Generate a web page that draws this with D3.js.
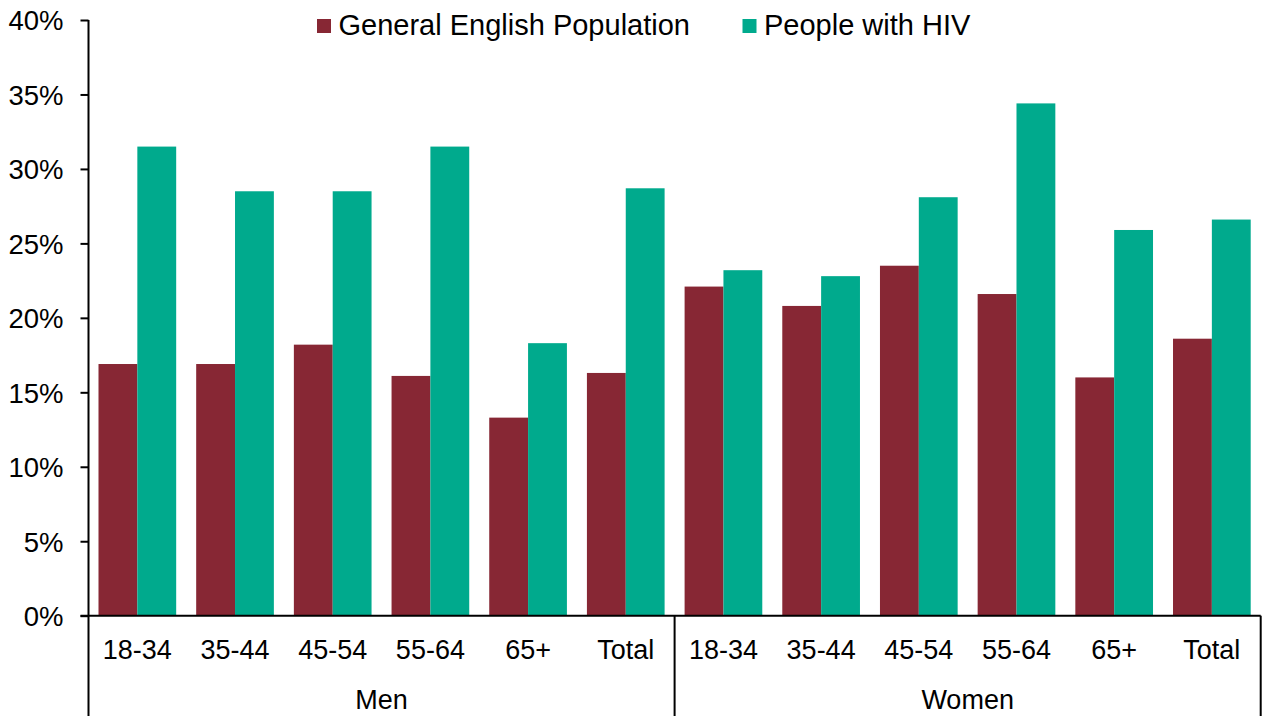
<!DOCTYPE html>
<html>
<head>
<meta charset="utf-8">
<script src="https://cdn.jsdelivr.net/npm/d3@7"></script>
<style>
  html, body { margin: 0; padding: 0; background: #fff; }
  svg { display: block; font-family: "Liberation Sans", Arial, sans-serif; }
</style>
</head>
<body>
<svg id="chart" width="1264" height="716"></svg>
<script>
// Age bands within each sex group
const groups = ["Men", "Women"];
const ageBands = ["18-34", "35-44", "45-54", "55-64", "65+", "Total"];
const seriesNames = ["General English Population", "People with HIV"];
const seriesColors = ["#872734", "#00AA8D"];

// Percentages per age band (Men then Women)
const generalPopulation = [16.9, 16.9, 18.2, 16.1, 13.3, 16.3,
                           22.1, 20.8, 23.5, 21.6, 16.0, 18.6];
const peopleWithHIV     = [31.5, 28.5, 28.5, 31.5, 18.3, 28.7,
                           23.2, 22.8, 28.1, 34.4, 25.9, 26.6];

const yTicks = [0, 5, 10, 15, 20, 25, 30, 35, 40];

// Build the row table
const rows = [];
groups.forEach((g, gi) => {
  ageBands.forEach((a, ai) => {
    const i = gi * ageBands.length + ai;
    rows.push({ key: g + "|" + a, group: g, age: a,
                values: [generalPopulation[i], peopleWithHIV[i]] });
  });
});

const svg = d3.select("#chart");
const plotLeft = 88.5, plotRight = 1260.7, plotTop = 20, plotBottom = 615.7, svgH = 716;

const x0 = d3.scaleBand().domain(rows.map(d => d.key)).range([plotLeft, plotRight]).padding(0);
const x1 = d3.scaleBand().domain(d3.range(seriesNames.length))
  .range([10, x0.bandwidth() - 10]).padding(0);
const y = d3.scaleLinear().domain([0, 40]).range([plotBottom, plotTop]);

// Bars
const bandG = svg.append("g").selectAll("g").data(rows).join("g")
  .attr("transform", d => `translate(${x0(d.key)},0)`);
bandG.selectAll("rect").data(d => d.values.map((v, i) => ({ v, i }))).join("rect")
  .attr("x", d => x1(d.i))
  .attr("width", x1.bandwidth())
  .attr("y", d => y(d.v))
  .attr("height", d => y(0) - y(d.v))
  .attr("fill", d => seriesColors[d.i]);

// Y axis
const yAxis = d3.axisLeft(y).tickValues(yTicks).tickFormat(d => d + "%")
  .tickSize(8).tickPadding(17);
const yg = svg.append("g").attr("transform", `translate(${plotLeft},0)`).call(yAxis);
yg.select(".domain").remove();
yg.selectAll(".tick line").attr("stroke", "#000").attr("stroke-width", 2);
yg.selectAll(".tick text").attr("font-size", 27.5).attr("fill", "#000")
  .attr("font-family", "Liberation Sans, Arial, sans-serif").attr("dy", "0.36em");

// Axis lines
const lines = svg.append("g").attr("stroke", "#000").attr("stroke-width", 2);
lines.append("line").attr("x1", plotLeft).attr("x2", plotLeft).attr("y1", plotTop).attr("y2", svgH);
lines.append("line").attr("x1", plotLeft - 8).attr("x2", plotRight).attr("y1", plotBottom).attr("y2", plotBottom);
// Group separators
const groupEdges = [x0(rows[ageBands.length].key), plotRight];
groupEdges.forEach(xe => {
  lines.append("line").attr("x1", xe).attr("x2", xe).attr("y1", plotBottom).attr("y2", svgH);
});

// Category labels
svg.append("g").selectAll("text").data(rows).join("text")
  .attr("x", d => x0(d.key) + x0.bandwidth() / 2)
  .attr("y", 659)
  .attr("text-anchor", "middle")
  .attr("font-size", 27)
  .attr("fill", "#000")
  .text(d => d.age);

// Group labels
svg.append("g").selectAll("text").data(groups).join("text")
  .attr("x", g => {
    const a = x0(g + "|" + ageBands[0]);
    const b = x0(g + "|" + ageBands[ageBands.length - 1]) + x0.bandwidth();
    return (a + b) / 2;
  })
  .attr("y", 709)
  .attr("text-anchor", "middle")
  .attr("font-size", 27)
  .attr("fill", "#000")
  .text(d => d);

// Legend
const legendX = [317, 742.5];
const legend = svg.append("g").selectAll("g").data(seriesNames).join("g")
  .attr("transform", (d, i) => `translate(${legendX[i]},0)`);
legend.append("rect").attr("x", 0).attr("y", 19).attr("width", 14).attr("height", 14)
  .attr("fill", (d, i) => seriesColors[i]);
legend.append("text").attr("x", 21.5).attr("y", 34.5)
  .attr("font-size", 29).attr("fill", "#000").text(d => d);
</script>
</body>
</html>
